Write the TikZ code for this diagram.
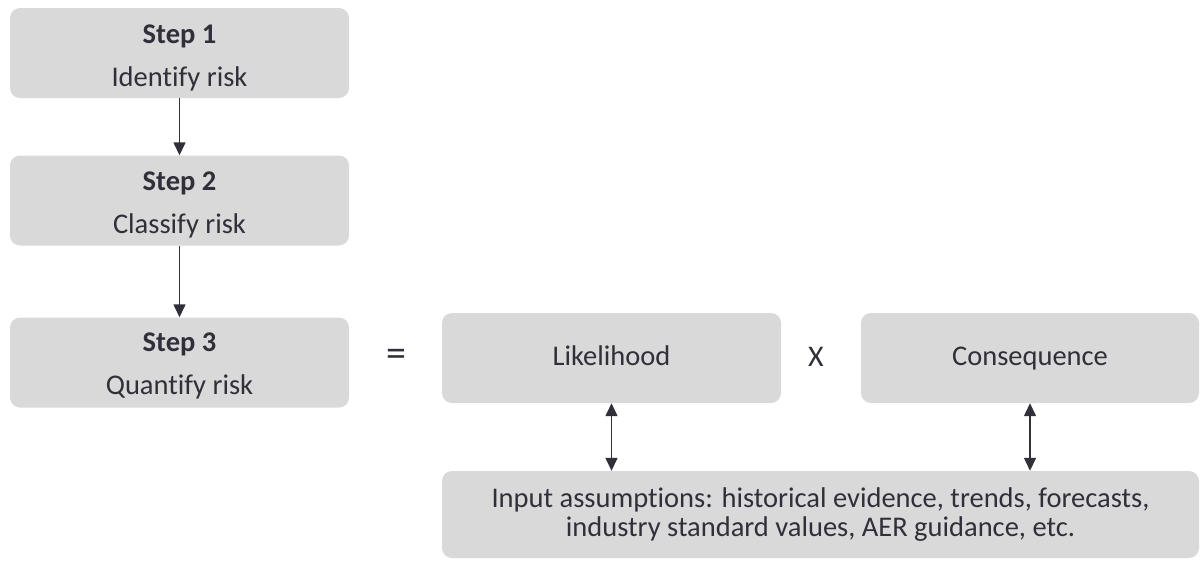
\documentclass[tikz,border=0pt]{standalone}
\usepackage{fontspec}
\setmainfont[Ligatures=NoCommon]{Carlito}
\usetikzlibrary{arrows.meta}
\definecolor{boxfill}{HTML}{D9D9D9}
\definecolor{ink}{HTML}{30303A}
\newcommand{\steptext}[3]{\raisebox{#3}[\height][\depth]{\begin{tabular}{@{}c@{}}{\bfseries #1}\\#2\end{tabular}}}
\begin{document}
\begin{tikzpicture}[x=1pt,y=-1pt,
  box/.style={fill=boxfill, rounded corners=10pt, inner sep=0pt, text=ink, align=center},
  stepbox/.style={box, minimum width=339pt, minimum height=90pt, font=\fontsize{28.5}{43}\selectfont},
  factor/.style={box, minimum width=339pt, minimum height=90pt, text height=20pt, text depth=5pt, font=\fontsize{28.5}{32}\selectfont},
  sym/.style={text=ink, inner sep=0pt, font=\fontsize{30}{32}\selectfont},
  conn/.style={draw=ink, line width=1.4pt, -{Triangle[width=12pt,length=13pt]}},
  dconn/.style={draw=ink, line width=1.4pt, {Triangle[width=12pt,length=13pt]}-{Triangle[width=12pt,length=13pt]}}]
\useasboundingbox (0,0) rectangle (1201,560);
\node[stepbox] (s1) at (179.5,53) {\steptext{Step 1}{Identify risk}{-3pt}};
\node[stepbox] (s2) at (179.5,200.5) {\steptext{Step 2}{Classify risk}{-3pt}};
\node[stepbox] (s3) at (179.5,362.5) {\steptext{Step 3}{Quantify risk}{-2pt}};
\node[factor] (lik) at (611.5,358) {Likelihood};
\node[factor, minimum width=338pt] (con) at (1030,358) {Consequence};
\node[box, minimum width=757pt, minimum height=87pt, font=\fontsize{28.5}{29}\selectfont] (inp) at (820.5,514.5)
  {Input assumptions: historical evidence, trends, forecasts,\\industry standard values, AER guidance, etc.};
\node[sym, font=\fontsize{40}{40}\selectfont] (eq) at (396,358) {=};
\node[sym] (times) at (816,357) {X};
\draw[conn] (s1.south) -- (s2.north);
\draw[conn] (s2.south) -- (s3.north);
\draw[dconn] (lik.south) -- (lik.south |- inp.north);
\draw[dconn] (con.south) -- (con.south |- inp.north);
\end{tikzpicture}
\end{document}
